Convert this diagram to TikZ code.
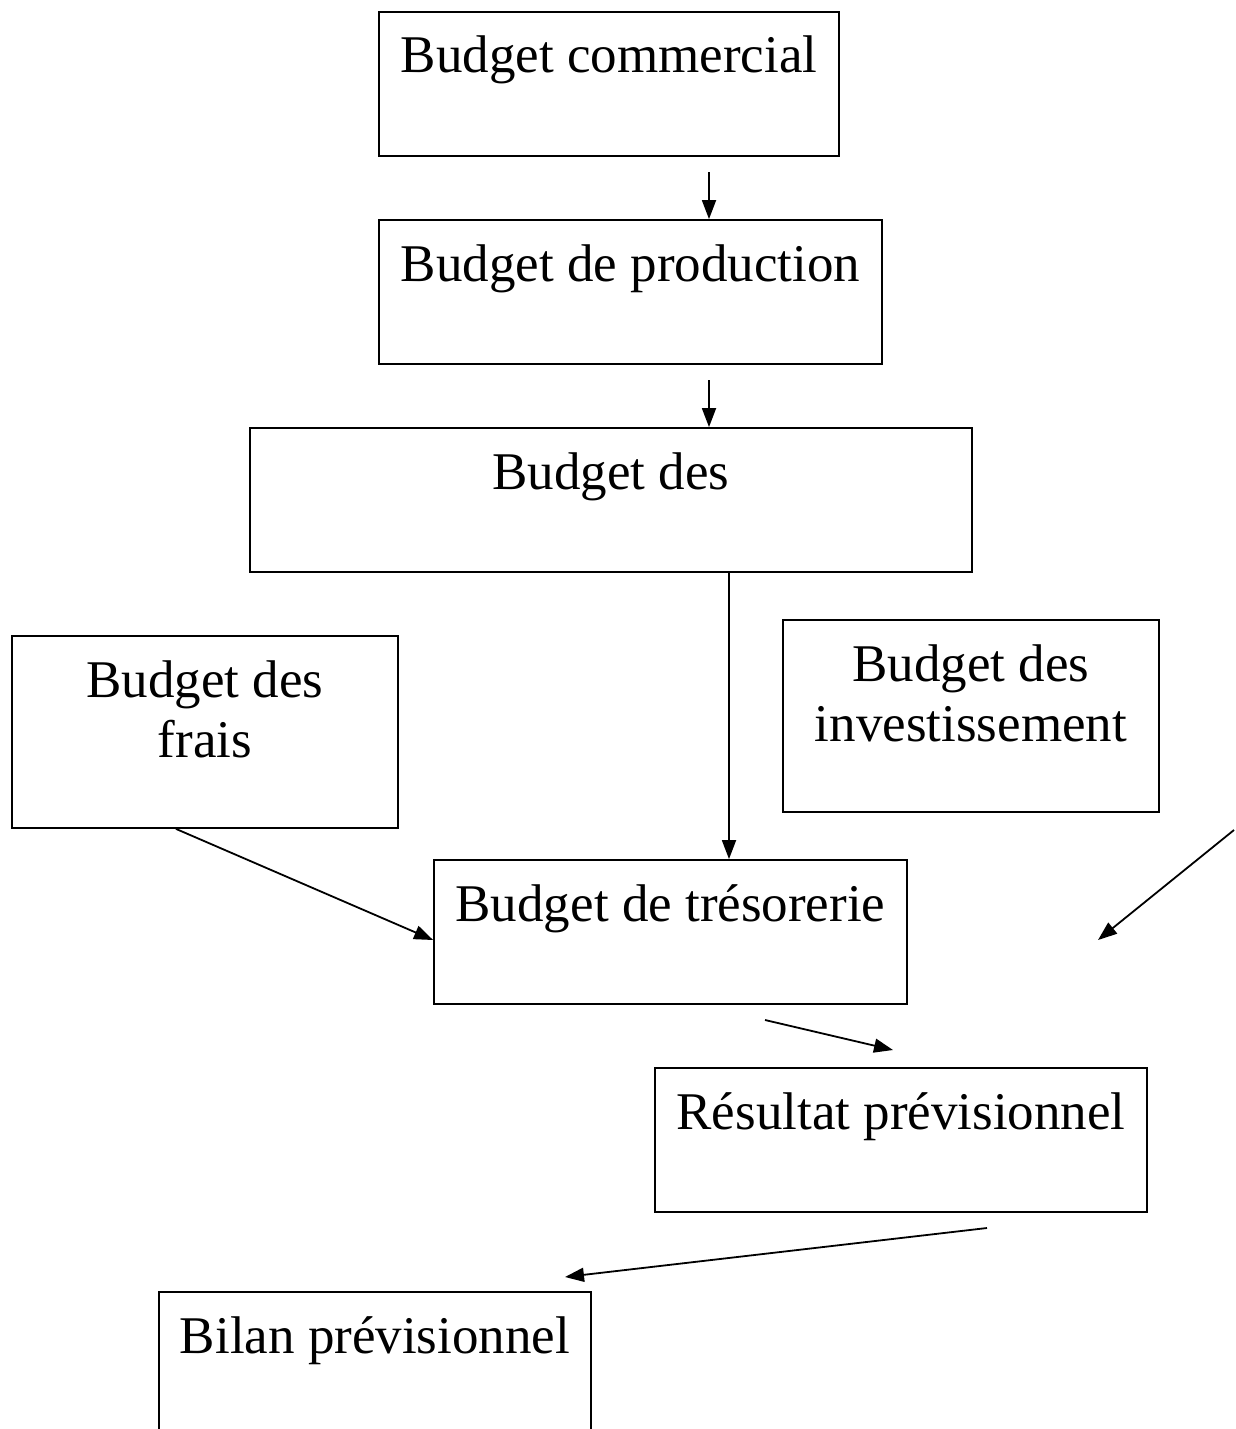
\documentclass[tikz,border=0pt]{standalone}
\usepackage{fontspec}
\setmainfont{Liberation Serif}
\usetikzlibrary{arrows.meta}

\begin{document}
\begin{tikzpicture}[x=0.5pt, y=-0.5pt,
	bloc/.style={draw, line width=0.9pt, inner sep=0pt, align=flush center,
		font=\fontsize{26.5pt}{30pt}\selectfont, text height=30.5pt},
	fleche/.style={line width=0.9pt, -{Triangle[length=9.5pt,width=7pt]}}]

	\useasboundingbox (0,0) rectangle (1236,1429);
	\clip (0,0) rectangle (1236,1429);

	\node (b1) [bloc, minimum width=230pt, text depth=41.5pt] at (609, 84) {Budget commercial};
	\node (b2) [bloc, minimum width=251.5pt, text depth=41.5pt] at (630.5, 292) {Budget de production};
	\node (b3) [bloc, minimum width=361pt, text depth=41.5pt] at (611, 500) {Budget des};
	\node (b4) [bloc, minimum width=193pt, text width=193pt, text depth=65.5pt] at (205, 732) {Budget des\\frais};
	\node (b5) [bloc, minimum width=188pt, text width=188pt, text depth=65.5pt] at (971, 716) {Budget des\\investissement};
	\node (b6) [bloc, minimum width=236.5pt, text depth=41.5pt] at (670.5, 932) {Budget de trésorerie};
	\node (b7) [bloc, minimum width=246pt, text depth=41.5pt] at (901, 1140) {Résultat prévisionnel};
	\node (b8) [bloc, minimum width=216pt, text depth=41.5pt] at (375, 1364) {Bilan prévisionnel};

	\coordinate (s1) at (709, 172);
	\coordinate (s2) at (709, 380);
	\coordinate (p5) at (1234, 830);
	\coordinate (q5) at (1098, 940);
	\coordinate (p6) at (765, 1020);
	\coordinate (q6) at (893, 1050);
	\coordinate (p7) at (987, 1228);
	\coordinate (q7) at (565, 1277);

	\path[fleche]
	(s1) edge (s1 |- b2.north)
	(s2) edge (s2 |- b3.north)
	([xshift=59pt]b3.south) edge ([xshift=59pt]b3.south |- b6.north)
	([xshift=-14.5pt]b4.south) edge ([yshift=-4pt]b6.west)
	(p5) edge (q5)
	(p6) edge (q6)
	(p7) edge (q7);

\end{tikzpicture}
\end{document}
